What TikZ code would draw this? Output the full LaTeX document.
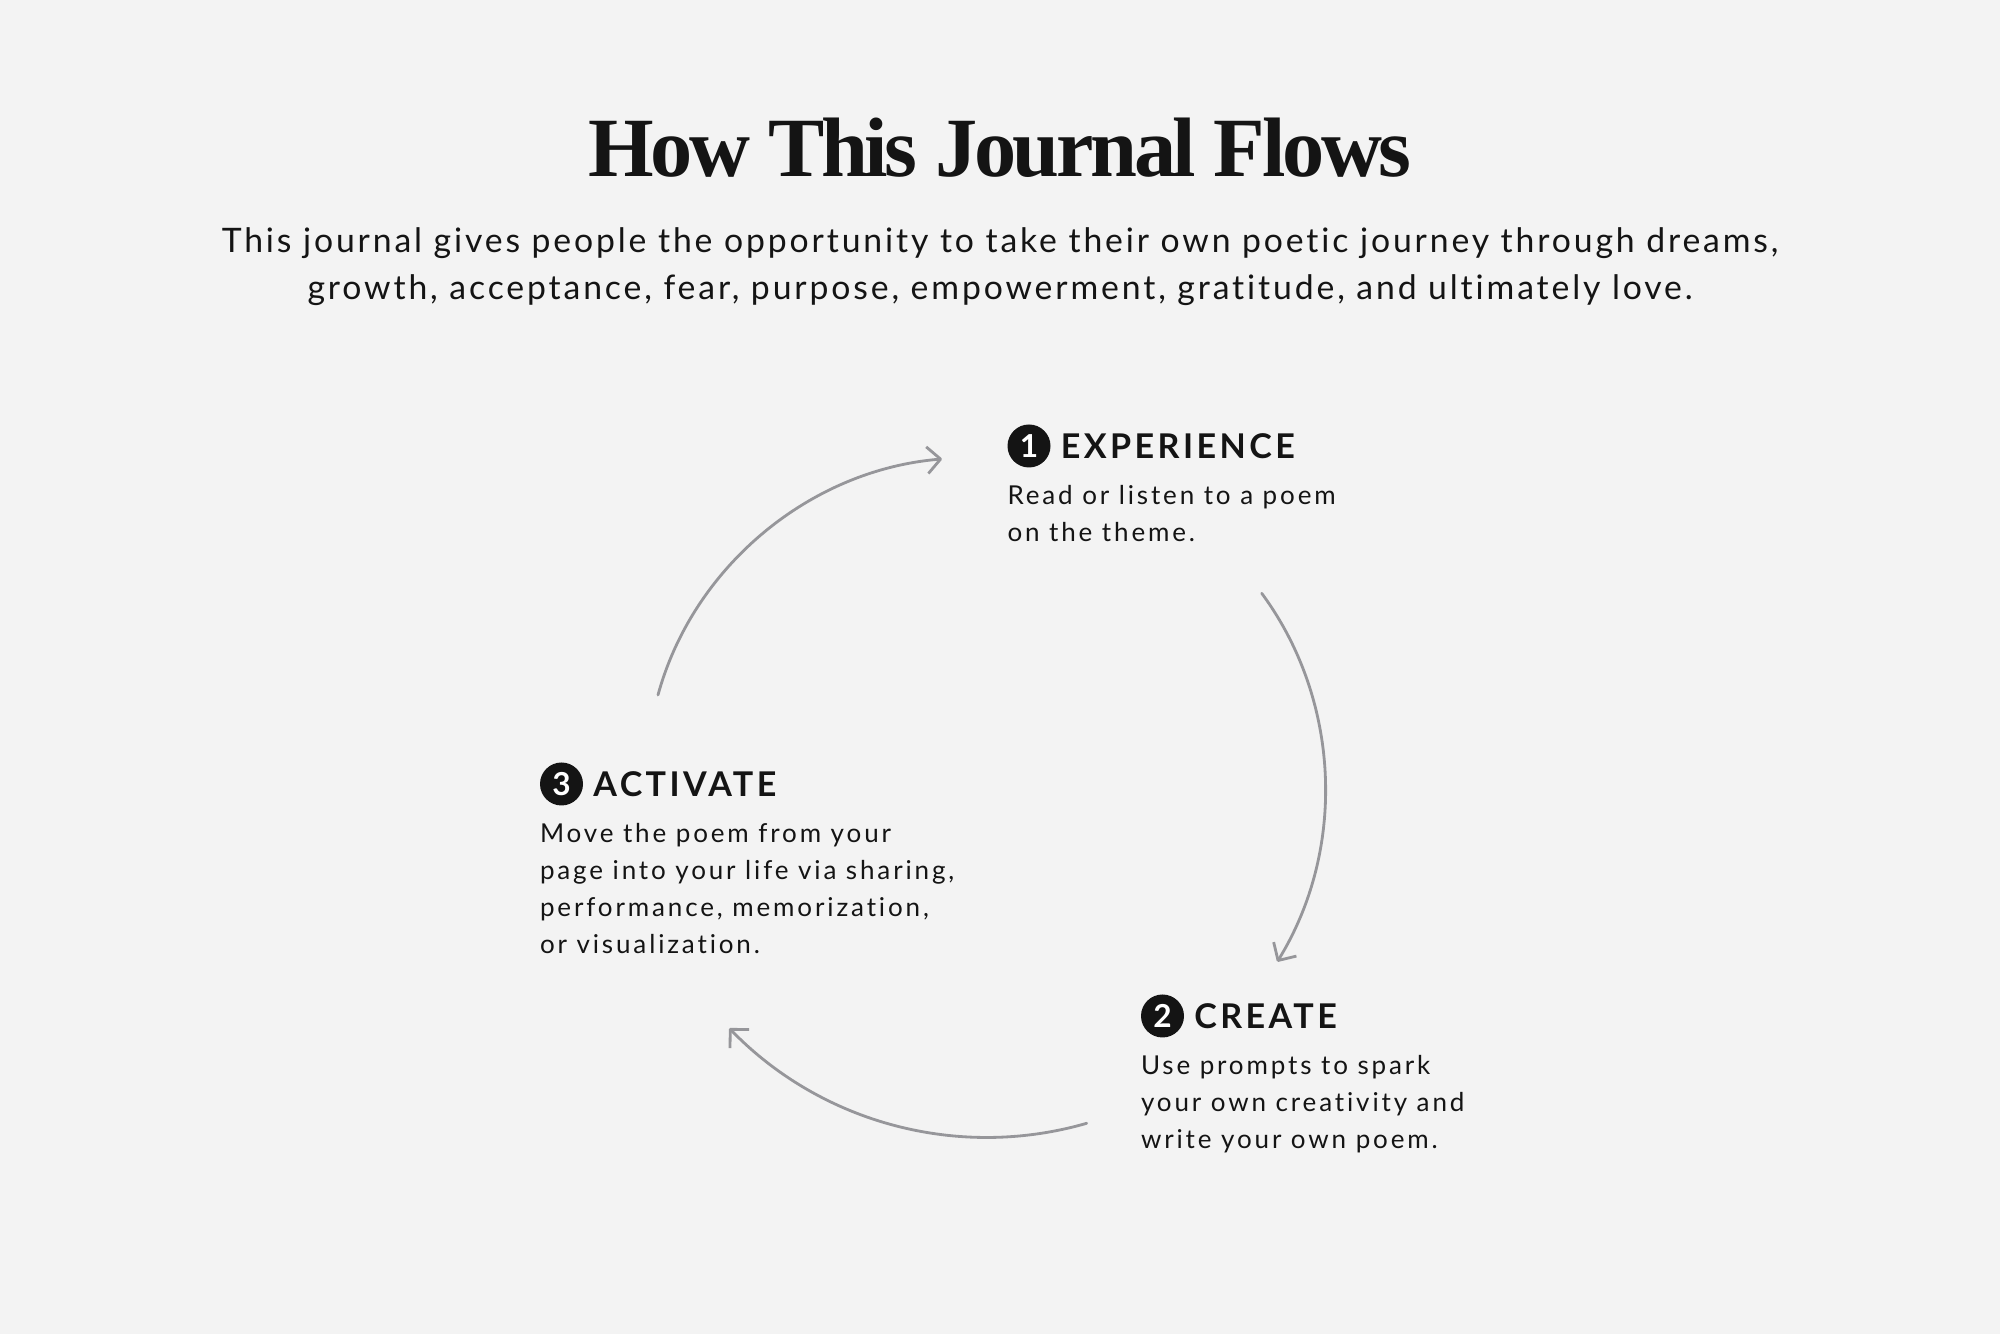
\documentclass[tikz,border=0pt]{standalone}
\usepackage{fontspec}
\setmainfont{Lato}[Ligatures=NoCommon]
\newfontfamily\titlefont{Liberation Serif}[LetterSpace=-4]
\newfontfamily\leadfont{Lato}[LetterSpace=8.5,Ligatures=NoCommon]
\newfontfamily\headfont{Lato}[LetterSpace=10,Ligatures=NoCommon]
\newfontfamily\stepfont{Lato}[LetterSpace=11,Ligatures=NoCommon]
\usetikzlibrary{positioning,arrows.meta}
\definecolor{pagegray}{HTML}{F3F3F3}
\definecolor{inkblack}{HTML}{141414}
\definecolor{loopgray}{HTML}{96969A}

\begin{document}
\begin{tikzpicture}[
    numdot/.style={circle,fill=inkblack,text=white,minimum size=0.43cm,inner sep=0pt,
        font=\bfseries\fontsize{9}{9}\selectfont},
    headtext/.style={inner sep=0pt,text=inkblack,
        font=\headfont\bfseries\fontsize{9.7}{11}\selectfont},
    bodytext/.style={inner sep=0pt,text=inkblack,align=left,
        font=\stepfont\fontsize{7.4}{10.5}\selectfont},
    cyclearrow/.style={loopgray,line width=0.8pt,line cap=round,
        -{Straight Barb[length=3.8pt,width=7.6pt,line join=round]},
        bend left=#1,looseness=0.92}
]
    \fill[pagegray] (0,0) rectangle (20,13.34);
    \useasboundingbox (0,0) rectangle (20,13.34);

    \node[anchor=base,inner sep=0pt,text=inkblack,
        font=\titlefont\bfseries\fontsize{24}{24}\selectfont] (title) at (10,11.57)
        {How This Journal Flows};
    \node[anchor=base,inner sep=0pt,text=inkblack,align=center,
        font=\leadfont\fontsize{9.6}{13.4}\selectfont] (lead) at (10,10.34)
        {This journal gives people the opportunity to take their own poetic journey through dreams,\\
         growth, acceptance, fear, purpose, empowerment, gratitude, and ultimately love.};

    \begin{scope}
        \node[numdot] (n1) at (10.29,8.88) {1};
        \node[headtext,right=0.09cm of n1] (experience) {EXPERIENCE};
        \node[bodytext,below=9.55mm of n1.west,anchor=base west] (experiencetext)
            {Read or listen to a poem\\on the theme.};
    \end{scope}
    \begin{scope}
        \node[numdot] (n2) at (11.625,3.18) {2};
        \node[headtext,right=0.09cm of n2] (create) {CREATE};
        \node[bodytext,below=13.26mm of n2.west,anchor=base west] (createtext)
            {Use prompts to spark\\your own creativity and\\write your own poem.};
    \end{scope}
    \begin{scope}
        \node[numdot] (n3) at (5.615,5.50) {3};
        \node[headtext,right=0.09cm of n3] (activate) {ACTIVATE};
        \node[bodytext,below=16.96mm of n3.west,anchor=base west] (activatetext)
            {Move the poem from your\\page into your life via sharing,\\performance, memorization,\\or visualization.};
    \end{scope}

    \coordinate (activateout) at (6.58,6.39);
    \coordinate (experiencein) at (9.42,8.75);
    \coordinate (experienceout) at (12.617,7.407);
    \coordinate (createin) at (12.773,3.723);
    \coordinate (createout) at (10.867,2.107);
    \coordinate (activatein) at (7.293,3.057);

    \draw[cyclearrow=35] (activateout) to (experiencein);
    \draw[cyclearrow=34] (experienceout) to (createin);
    \draw[cyclearrow=31] (createout) to (activatein);
\end{tikzpicture}
\end{document}
